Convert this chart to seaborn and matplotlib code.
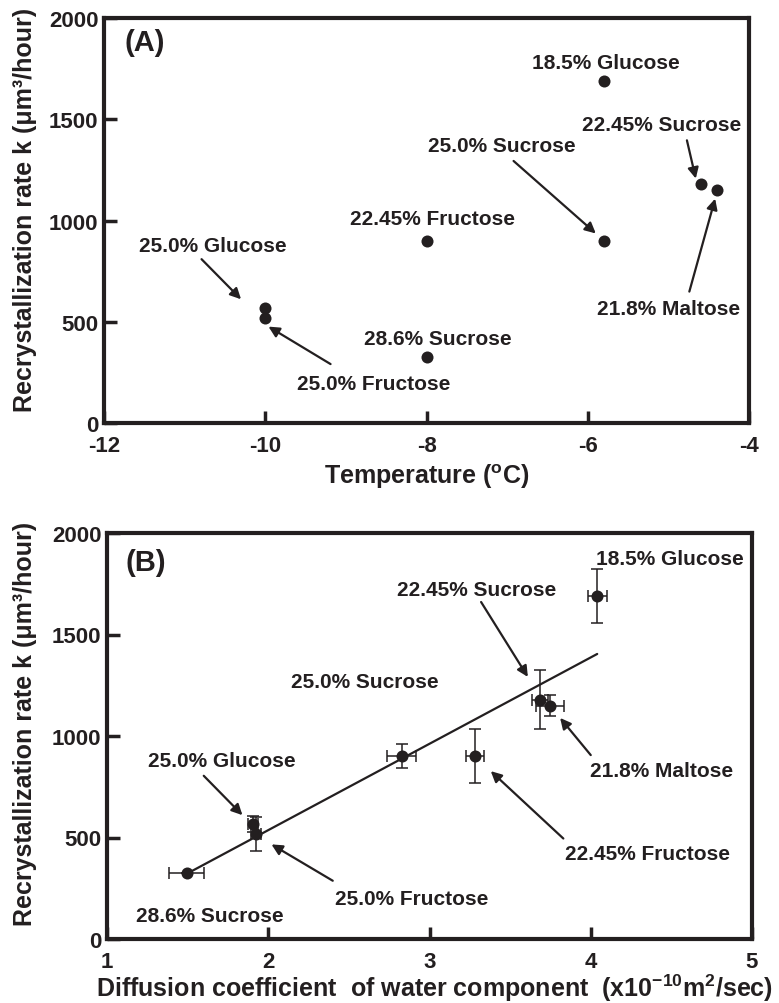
import numpy as np
import pandas as pd
import matplotlib
matplotlib.use("Agg")
import matplotlib.pyplot as plt
import seaborn as sns

# ---------------- data ----------------
samples = ["18.5% Glucose", "22.45% Sucrose", "21.8% Maltose", "25.0% Sucrose",
           "22.45% Fructose", "25.0% Glucose", "25.0% Fructose", "28.6% Sucrose"]
temperature = [-5.8, -4.6, -4.4, -5.8, -8.0, -10.0, -10.0, -8.0]
rate_k = [1691, 1180, 1150, 900, 900, 567, 518, 325]

# panel B (diffusion coefficient of water, x1e-10 m2/s)
diff_samples = ["18.5% Glucose", "22.45% Sucrose", "21.8% Maltose", "22.45% Fructose",
                "25.0% Sucrose", "25.0% Glucose", "25.0% Fructose", "28.6% Sucrose"]
diff_coef = [4.04, 3.685, 3.747, 3.282, 2.827, 1.907, 1.924, 1.494]
diff_rate = [1691, 1179, 1149, 900, 900, 565, 519, 325]
diff_xerr = [0.06, 0.05, 0.086, 0.057, 0.089, 0.03, 0.03, 0.107]
diff_yerr = [133, 144, 52, 133, 60, 40, 84, 0]

xticks_a = [-12, -10, -8, -6, -4]
yticks = [0, 500, 1000, 1500, 2000]
xticks_b = [1, 2, 3, 4, 5]

INK = "#231f20"

sns.set_style("ticks")
plt.rcParams["font.family"] = ["Liberation Sans", "DejaVu Sans"]
plt.rcParams["font.weight"] = "bold"
plt.rcParams["axes.unicode_minus"] = False
plt.rcParams["mathtext.fontset"] = "custom"
plt.rcParams["mathtext.rm"] = "Liberation Sans:bold"
plt.rcParams["mathtext.it"] = "Liberation Sans:bold"
plt.rcParams["mathtext.bf"] = "Liberation Sans:bold"
plt.rcParams["mathtext.default"] = "rm"

fig = plt.figure(figsize=(7.79, 10.04), dpi=100)
axA = fig.add_axes([104 / 779, 1 - 424 / 1004, 645 / 779, 405 / 1004])
axB = fig.add_axes([107 / 779, 1 - 940 / 1004, 645 / 779, 406 / 1004])

dfA = pd.DataFrame({"T": temperature, "k": rate_k, "sample": samples})
dfB = pd.DataFrame({"D": diff_coef, "k": diff_rate, "sample": diff_samples,
                    "xerr": diff_xerr, "yerr": diff_yerr})


def style_axes(ax, xlim, xticks):
    ax.set_xlim(*xlim)
    ax.set_ylim(0, 2000)
    ax.set_xticks(xticks)
    ax.set_yticks(yticks)
    for s in ax.spines.values():
        s.set_linewidth(3.0)
        s.set_color(INK)
        s.set_visible(True)
    ax.tick_params(direction="in", length=9, width=2.5, color=INK,
                   labelsize=16, labelcolor=INK, pad=4)
    ax.tick_params(axis="x", pad=9)
    for lab in ax.get_xticklabels() + ax.get_yticklabels():
        lab.set_fontweight("bold")


def arrow(ax, tail, head):
    ax.annotate("", xy=head, xytext=tail,
                arrowprops=dict(arrowstyle="-|>", color=INK, lw=1.6,
                                mutation_scale=16, shrinkA=0, shrinkB=0))


TXT = dict(fontsize=15, fontweight="bold", color=INK, ha="center", va="center")
LAB = dict(fontsize=18, fontweight="bold", color=INK)

# ---------------- panel A ----------------
sns.scatterplot(data=dfA, x="T", y="k", ax=axA, color=INK, s=75,
                edgecolor=INK, linewidth=0, legend=False, zorder=3)
style_axes(axA, (-12, -4), xticks_a)
axA.set_xlabel("Temperature ($^{o}$C)", va="center", **LAB)
axA.xaxis.set_label_coords(0.5, -0.13)
axA.set_ylabel("Recrystallization rate k (μm³/hour)", va="center", **LAB)
axA.yaxis.set_label_coords(-0.123, 0.528)
axA.text(-11.5, 1880, "(A)", fontsize=21, fontweight="bold", color=INK,
         ha="center", va="center")

axA.text(-5.77, 1782, "18.5% Glucose", **TXT)
axA.text(-5.08, 1475, "22.45% Sucrose", **TXT)
arrow(axA, (-4.77, 1396), (-4.66, 1207))
axA.text(-7.06, 1368, "25.0% Sucrose", **TXT)
arrow(axA, (-6.92, 1294), (-5.90, 936))
axA.text(-7.93, 1010, "22.45% Fructose", **TXT)
axA.text(-10.65, 878, "25.0% Glucose", **TXT)
arrow(axA, (-10.79, 809), (-10.30, 611))
axA.text(-8.65, 197, "25.0% Fructose", **TXT)
arrow(axA, (-9.19, 291), (-9.96, 476))
axA.text(-7.86, 419, "28.6% Sucrose", **TXT)
axA.text(-5.0, 566, "21.8% Maltose", **TXT)
arrow(axA, (-4.74, 649), (-4.42, 1108))

# ---------------- panel B ----------------
slope, intercept = np.polyfit(dfB["D"], dfB["k"], 1)
fit_x = np.array([dfB["D"].min(), dfB["D"].max()])
axB.plot(fit_x, slope * fit_x + intercept, color=INK, lw=1.6, zorder=2)
axB.errorbar(dfB["D"], dfB["k"], xerr=dfB["xerr"], yerr=dfB["yerr"], fmt="none",
             ecolor=INK, elinewidth=1.1, capsize=4, capthick=1.1, zorder=2)
sns.scatterplot(data=dfB, x="D", y="k", ax=axB, color=INK, s=75,
                edgecolor=INK, linewidth=0, legend=False, zorder=3)
style_axes(axB, (1, 5), xticks_b)
axB.set_xlabel("Diffusion coefficient  of water component  (x10$^{-10}$m$^{2}$/sec)",
               va="center", **LAB)
axB.xaxis.set_label_coords(0.508, -0.12)
axB.set_ylabel("Recrystallization rate k (μm³/hour)", va="center", **LAB)
axB.yaxis.set_label_coords(-0.127, 0.532)
axB.text(1.24, 1857, "(B)", fontsize=21, fontweight="bold", color=INK,
         ha="center", va="center")

axB.text(4.49, 1874, "18.5% Glucose", **TXT)
axB.text(3.29, 1723, "22.45% Sucrose", **TXT)
arrow(axB, (3.32, 1660), (3.61, 1291))
axB.text(2.60, 1267, "25.0% Sucrose", **TXT)
axB.text(4.44, 832, "21.8% Maltose", **TXT)
arrow(axB, (4.00, 906), (3.81, 1089))
axB.text(4.35, 422, "22.45% Fructose", **TXT)
arrow(axB, (3.83, 495), (3.38, 827))
axB.text(1.71, 881, "25.0% Glucose", **TXT)
arrow(axB, (1.60, 804), (1.84, 610))
axB.text(2.89, 200, "25.0% Fructose", **TXT)
arrow(axB, (2.40, 287), (2.02, 466))
axB.text(1.64, 118, "28.6% Sucrose", **TXT)

fig.savefig("out.png", dpi=100)
